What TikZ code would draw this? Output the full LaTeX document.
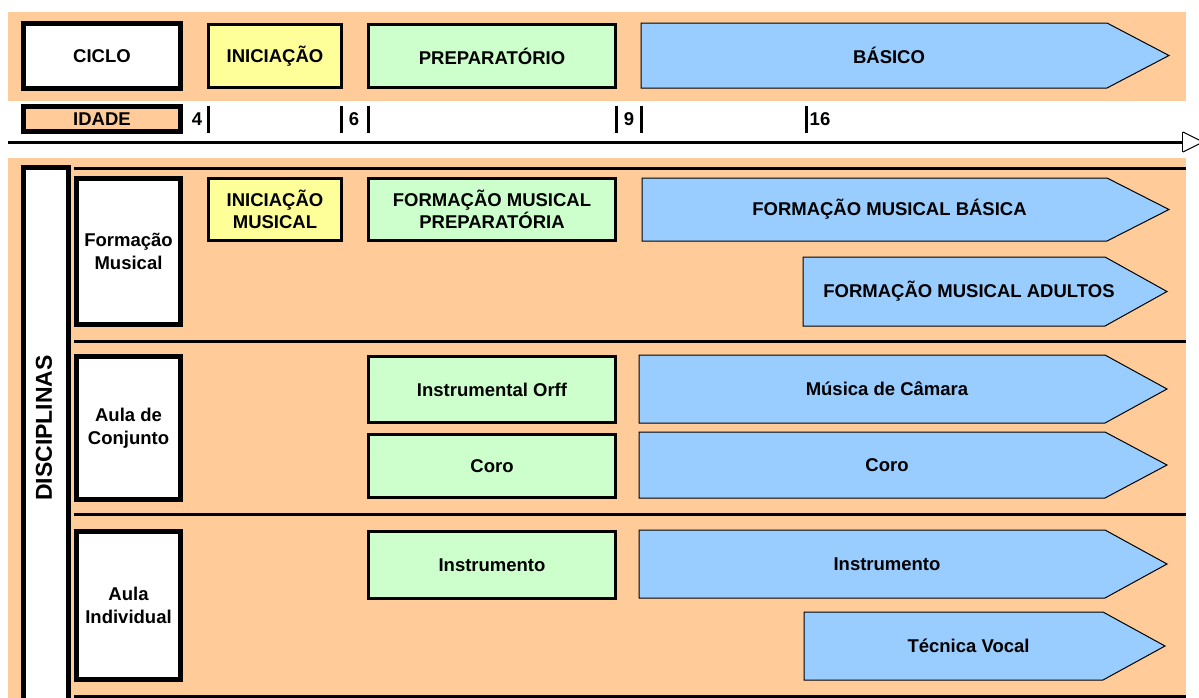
\documentclass[tikz,border=0pt]{standalone}
\usepackage{fontspec}
\setmainfont{Liberation Sans}
\usepackage{xcolor}
\definecolor{laranja}{HTML}{FFCC99}
\definecolor{amarelo}{HTML}{FFFF99}
\definecolor{verde}{HTML}{CCFFCC}
\definecolor{azul}{HTML}{99CCFF}
\tikzset{
  letra/.style={font=\bfseries\fontsize{18.5}{22.5}\selectfont},
  caixa/.style={letra, draw=black, line width=3, inner sep=0, align=center},
  rotulo/.style={caixa, line width=5, fill=white},
  seta/.style={draw=black, line width=1, fill=azul},
  texto/.style={letra, inner sep=0, align=center},
}

\begin{document}
\begin{tikzpicture}[x=1pt,y=-1pt]
\useasboundingbox (0,0) rectangle (1199,697);
% fundos
\fill[laranja] (8,12) rectangle (1186,101);
\fill[laranja] (8,158) rectangle (1186,710);

% linha do tempo
\coordinate (t0) at (8,142);
\coordinate (t1) at (1183,142);
\draw[line width=3] (t0) -- (t1);
\draw[line width=3] (1183,132) -- (1183,152);
\draw[line width=1,fill=white] (1183,132) -- (1203,142) -- (1183,152);
\foreach \x in {208,341,368,616,641,806}
  \draw[line width=3] (\x,106) -- (\x,133);
\foreach \x/\nm/\idade in {197/i4/4,354/i6/6,629/i9/9,820/i16/16}
  \node[texto] (\nm) at (\x,119) {\idade};

% separadores
\foreach \y in {168,341,514,696}
  \draw[line width=3] (74,\y) -- (1186,\y);

% rotulos
\node[rotulo, minimum width=157, minimum height=65] (ciclo) at (102,56) {CICLO};
\node[rotulo, fill=laranja, minimum width=157, minimum height=25] (idade) at (102,119) {IDADE};
\draw[line width=5, fill=white] (23.5,167.5) rectangle (68.5,712);
\node[texto, font=\bfseries\fontsize{23}{27}\selectfont, rotate=90] (disc) at (44,428) {DISCIPLINAS};
\foreach \y/\h/\nm/\txt in {251.5/146/fm/Formação\\Musical, 428/143/conj/Aula de\\Conjunto, 605.5/148/indiv/Aula\\Individual}
  \node[rotulo, minimum width=104, minimum height=\h] (\nm) at (128.5,\y) {\txt};

% iniciacao e preparatorio
\node[caixa, fill=amarelo, minimum width=133, minimum height=63] (inic) at (275,56) {INICIAÇÃO};
\node[caixa, fill=amarelo, minimum width=133, minimum height=62] (inicmus) at (275,209.5) {INICIAÇÃO\\MUSICAL};
\foreach \y/\h/\nm/\txt in {56/63/prep/PREPARATÓRIO, 209.5/62/fmprep/FORMAÇÃO MUSICAL\\PREPARATÓRIA,
    389.5/66/orff/Instrumental Orff, 466/63/coroprep/Coro, 565/67/instprep/Instrumento}
  \node[caixa, fill=verde, minimum width=247, minimum height=\h] (\nm) at (492,\y) {\txt};

% basico
\foreach \xa/\ya/\yb/\xb/\nm/\txt in {641/23/88/1169/basico/BÁSICO, 642/178/241/1169/fmbas/FORMAÇÃO MUSICAL BÁSICA,
    803/257/326/1167/fmad/FORMAÇÃO MUSICAL ADULTOS, 639/355/423/1167/camara/Música de Câmara,
    639/432/498/1167/corobas/Coro, 639/530/598/1167/instbas/Instrumento, 804/612/680/1165/vocal/Técnica Vocal} {
  \draw[seta] (\xa,\ya) -- (\xb-62,\ya) -- (\xb,{(\ya+\yb)/2}) -- (\xb-62,\yb) -- (\xa,\yb) -- cycle;
  \node[texto] (\nm) at ({(\xa+\xb)/2-16},{(\ya+\yb)/2}) {\txt};
}
\end{tikzpicture}
\end{document}
